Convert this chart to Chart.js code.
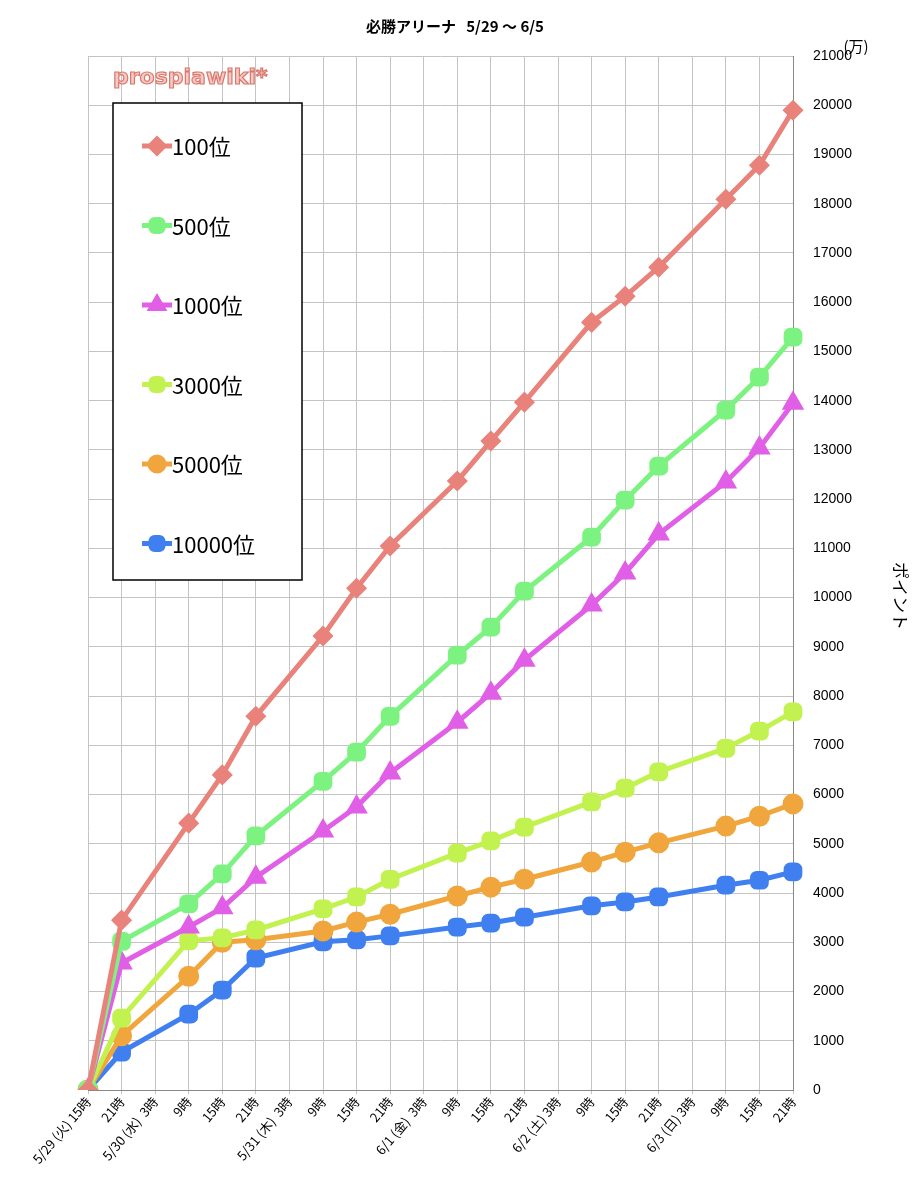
<!DOCTYPE html>
<html><head><meta charset="utf-8">
<script src="https://cdn.jsdelivr.net/npm/chart.js@4"></script>
<style>body{margin:0;background:#fff}#wrap{width:924px;height:1200px;position:relative}</style>
</head><body><div id="wrap"><canvas id="c"></canvas></div>
<script>
const labels = ['5/29 (火) 15時','21時','5/30 (水)  3時','9時','15時','21時','5/31 (木)  3時','9時','15時','21時','6/1 (金)  3時','9時','15時','21時','6/2 (土) 3時','9時','15時','21時','6/3 (日) 3時','9時','15時','21時'];
const N = null;
const rank100 =   [0,3450,N,5420,6400,7590,N,9220,10190,11050,N,12370,13180,13970,N,15590,16120,16710,N,18090,18780,19900];
const rank500 =   [0,3020,N,3780,4390,5160,N,6270,6860,7590,N,8830,9400,10130,N,11230,11980,12670,N,13810,14480,15290];
const rank1000 =  [0,2580,N,3310,3700,4320,N,5260,5750,6440,N,7470,8060,8730,N,9850,10500,11290,N,12350,13040,13950];
const rank3000 =  [0,1460,N,3030,3090,3250,N,3680,3920,4280,N,4810,5060,5340,N,5850,6130,6460,N,6940,7290,7680];
const rank5000 =  [0,1100,N,2310,3000,3050,N,3230,3410,3570,N,3940,4120,4280,N,4630,4830,5020,N,5360,5560,5810];
const rank10000 = [0,770,N,1540,2030,2680,N,3010,3050,3130,N,3310,3390,3510,N,3740,3820,3920,N,4160,4260,4430];

function ds(label, data, color, style) {
  return {label, data, borderColor: color, backgroundColor: color, borderWidth: 5,
    pointStyle: style, pointRadius: style === 'rectRot' ? 7 : 8,
    spanGaps: true, tension: 0};
}
const datasets = [
  ds('100位', rank100, '#e8827a', 'rectRot'),
  ds('500位', rank500, '#7cf380', 'rectRounded'),
  ds('1000位', rank1000, '#e05fe6', 'triangle'),
  ds('3000位', rank3000, '#c2f24f', 'rectRounded'),
  ds('5000位', rank5000, '#f0a63c', 'circle'),
  ds('10000位', rank10000, '#3f7ff0', 'rectRounded')
];

const deco = {
  id: 'deco',
  afterDraw(chart) {
    const ctx = chart.ctx;
    ctx.save();
    ctx.fillStyle = '#000';
    ctx.font = 'bold 15px "Noto Sans CJK JP"';
    ctx.textAlign = 'center';
    ctx.textBaseline = 'middle';
    ctx.fillText('必勝アリーナ   5/29 〜 6/5', 455, 26);
    ctx.font = '15px "Noto Sans CJK JP"';
    ctx.fillText('(万)', 856, 46);
    ctx.save();
    ctx.translate(900, 596);
    ctx.rotate(Math.PI / 2);
    ctx.font = '17px "Noto Sans CJK JP"';
    ctx.fillText('ポイント', 0, 0);
    ctx.restore();
    ctx.font = 'bold 22px "DejaVu Sans"';
    ctx.textAlign = 'left';
    ctx.fillStyle = '#f6c9c4';
    ctx.strokeStyle = '#d9776d';
    ctx.lineWidth = 1.2;
    ctx.fillText('prospiawiki*', 113, 78);
    ctx.strokeText('prospiawiki*', 113, 78);
    ctx.fillStyle = '#fff';
    ctx.fillRect(113, 103, 189, 477);
    ctx.strokeStyle = '#000';
    ctx.lineWidth = 1.5;
    ctx.strokeRect(113, 103, 189, 477);
    ctx.font = '22px "Noto Sans CJK JP"';
    datasets.forEach((d, i) => {
      const y = 146 + i * 79.5;
      ctx.strokeStyle = d.borderColor;
      ctx.lineWidth = 5;
      ctx.beginPath(); ctx.moveTo(142, y); ctx.lineTo(172, y); ctx.stroke();
      ctx.fillStyle = d.borderColor;
      Chart.helpers.drawPoint(ctx, {pointStyle: d.pointStyle, rotation: 0, radius: 7, borderWidth: 1}, 157, y);
      ctx.fillStyle = '#000';
      ctx.fillText(d.label, 172, y + 1);
    });
    ctx.restore();
  }
};

new Chart(document.getElementById('c'), {
  type: 'line',
  data: {labels, datasets},
  plugins: [deco],
  options: {
    responsive: true, maintainAspectRatio: false, animation: false,
    layout: {padding: {left: 88, top: 56, right: 0, bottom: 0}},
    plugins: {legend: {display: false}, tooltip: {enabled: false}},
    scales: {
      x: {
        offset: false,
        grid: {color: '#c4c4c4', drawTicks: true, tickLength: 4},
        border: {color: '#888'},
        ticks: {color: '#000', font: {size: 13, family: '"Noto Sans CJK JP"'}, minRotation: 50, maxRotation: 50, autoSkip: false, padding: 0},
        afterFit(s) { s.height = 110; }
      },
      y: {
        position: 'right', min: 0, max: 21000,
        grid: {color: '#c4c4c4', drawTicks: false},
        border: {color: '#888'},
        ticks: {stepSize: 1000, color: '#000', font: {size: 14, family: '"Liberation Sans"'}, padding: 20,
          callback: v => String(v)},
        afterFit(s) { s.width = 131; }
      }
    }
  }
});
</script></body></html>
